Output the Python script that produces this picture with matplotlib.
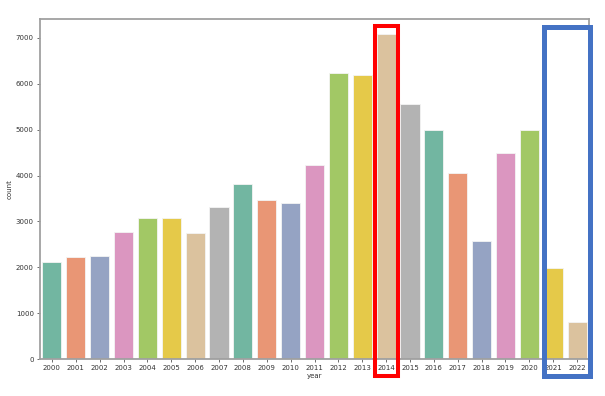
import colorsys
import matplotlib
matplotlib.use("Agg")
import matplotlib.pyplot as plt
from matplotlib.colors import to_rgb
from matplotlib.patches import Rectangle

years = [str(y) for y in range(2000, 2023)]
counts = [2115, 2231, 2252, 2762, 3074, 3068, 2740, 3314, 3809, 3460, 3395,
          4223, 6229, 6193, 7090, 5553, 5000, 4062, 2580, 4483, 5000, 1984, 800]

set2 = ["#66c2a5", "#fc8d62", "#8da0cb", "#e78ac3",
        "#a6d854", "#ffd92f", "#e5c494", "#b3b3b3"]


def desat(c, prop=0.75):
    h, l, s = colorsys.rgb_to_hls(*to_rgb(c))
    return colorsys.hls_to_rgb(h, l, s * prop)


colors = [desat(set2[i % len(set2)]) for i in range(len(years))]

W, H = 605, 396
fig = plt.figure(figsize=(W / 100, H / 100), dpi=100)
ax = fig.add_axes([40 / W, 1 - 359 / H, 549 / W, 340 / H])

ax.bar(range(len(years)), counts, width=0.8, color=colors,
       edgecolor="#f4f4f4", linewidth=0.6)
ax.set_xlim(-0.5, len(years) - 0.5)
ax.set_ylim(0, 7414)
ax.set_xticks(range(len(years)))
ax.set_xticklabels(years)
ax.set_yticks(range(0, 8000, 1000))
ax.tick_params(labelsize=5, length=2.5, width=0.6, color="#555555",
               labelcolor="#333333", pad=2)
ax.set_xlabel("year", fontsize=5, labelpad=1, color="#333333")
ax.set_ylabel("count", fontsize=5, labelpad=2, color="#333333")
for s in ax.spines.values():
    s.set_color("#a0a0a0")
    s.set_linewidth(1.3)

# highlight boxes drawn over the chart
def px_rect(x0, y0, x1, y1, color, lw):
    r = Rectangle((x0 / W, 1 - y1 / H), (x1 - x0) / W, (y1 - y0) / H,
                  transform=fig.transFigure, fill=False, edgecolor=color,
                  linewidth=lw)
    fig.add_artist(r)

px_rect(375, 26, 398, 376, "#ff0000", 2.9)
px_rect(543.5, 26.5, 589.5, 375.5, "#4472c4", 3.6)

fig.savefig("out.png", dpi=100)
